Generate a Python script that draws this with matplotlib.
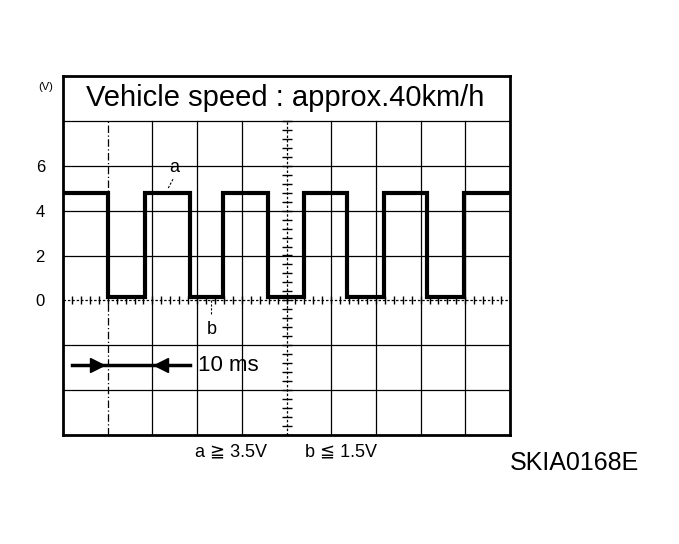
import numpy as np
import matplotlib.pyplot as plt

plt.rcParams['font.family'] = ['Liberation Sans', 'DejaVu Sans']

# waveform data (time in ms, voltage in V)
edge_times = [10.0, 18.3, 28.3, 35.9, 45.8, 54.0, 63.6, 71.9, 81.5, 89.7]
high_level = 4.8
low_level = 0.15
t_start, t_end = 0.0, 100.0

y_ticks = [0, 2, 4, 6]
y_grid = [-4, -2, 0, 2, 4, 6, 8]
x_grid = [10, 20, 30, 40, 50, 60, 70, 80, 90]

title = "Vehicle speed : approx.40km/h"
note_a = "a \u2267 3.5V"
note_b = "b \u2266 1.5V"
code = "SKIA0168E"

# 10 ms scale marker (ms / V)
scale_line = [2.0, 28.3]
scale_y = -2.9
scale_heads = [7.5, 22.0]

# build the square wave from the edge list
t = [t_start]
v = [high_level]
level = high_level
for e in edge_times:
    t.append(e)
    v.append(level)
    level = low_level if level == high_level else high_level
    t.append(e)
    v.append(level)
t.append(t_end)
v.append(level)

fig = plt.figure(figsize=(6.79, 5.44), dpi=100)
ax = fig.add_axes([63 / 679, 1 - 435 / 544, 447 / 679, 359 / 544])
ax.set_xlim(0, 100)
ax.set_ylim(-6, 10)

# grid
for y in y_grid:
    if y == 0:
        ax.axhline(y, color='black', lw=0.9, ls=(0, (2, 1.5)))
    else:
        ax.axhline(y, color='black', lw=0.9)
for x in x_grid:
    if x == 10:
        ax.plot([x, x], [-6, 8], color='black', lw=0.9, ls=(0, (6, 2, 1, 2)))
    elif x == 50:
        ax.plot([x, x], [-6, 8], color='black', lw=0.9, ls=(0, (2, 1.5)))
    else:
        ax.plot([x, x], [-6, 8], color='black', lw=0.9)

# small ticks on the centre lines
ty = np.arange(-6, 8.01, 0.4)
ax.plot([50] * len(ty), ty, ls='none', marker='_', ms=7, mew=1, color='black')
tx = np.arange(0, 100.01, 2)
ax.plot(tx, [0] * len(tx), ls='none', marker='|', ms=6, mew=1, color='black')

# waveform
ax.plot(t, v, color='black', lw=3, solid_joinstyle='miter')

# labels a and b
ax.text(25.0, 5.9, "a", fontsize=13, ha='center', va='center')
ax.plot([24.6, 23.4], [5.4, 4.95], color='black', lw=0.8, ls=(0, (2, 1.5)))
ax.text(33.3, -1.3, "b", fontsize=13, ha='center', va='center')
ax.plot([33.0, 33.0], [0, -0.6], color='black', lw=0.8, ls=(0, (2, 1.5)))

# 10 ms marker
ax.plot(scale_line, [scale_y, scale_y], color='black', lw=2.5)
ax.plot(scale_heads[0], scale_y, marker='>', ms=10, color='black', ls='none')
ax.plot(scale_heads[1], scale_y, marker='<', ms=10, color='black', ls='none')
ax.text(30.2, scale_y, "10 ms", fontsize=16, ha='left', va='center')

# title inside the top band
ax.text(49.6, 9.0, title, fontsize=21, ha='center', va='center')

ax.set_xticks([])
ax.set_yticks(y_ticks)
ax.set_yticklabels([str(y) for y in y_ticks], fontsize=12)
ax.tick_params(axis='y', length=0, pad=13)
for s in ax.spines.values():
    s.set_linewidth(2)

fig.text(46 / 679, 1 - 87 / 544, "(V)", fontsize=8, ha='center', va='center')
fig.text(231 / 679, 1 - 452 / 544, note_a, fontsize=13, ha='center', va='center')
fig.text(341 / 679, 1 - 452 / 544, note_b, fontsize=13, ha='center', va='center')
fig.text(574 / 679, 1 - 463 / 544, code, fontsize=18, ha='center', va='center')

fig.savefig("out.png", dpi=100)
